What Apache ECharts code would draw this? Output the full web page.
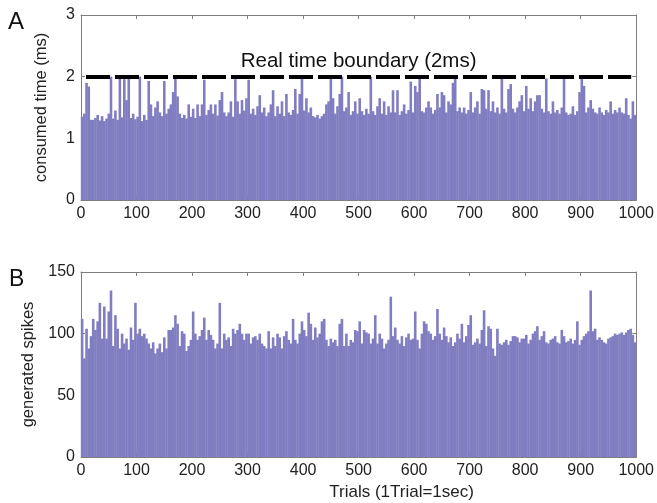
<!DOCTYPE html>
<html><head><meta charset="utf-8">
<script src="https://cdn.jsdelivr.net/npm/echarts@6/dist/echarts.min.js"></script>
<style>html,body{margin:0;padding:0;background:#fff}#c{width:657px;height:503px}</style>
</head><body><div id="c"></div>
<script>
// Panel A: consumed time per trial (ms), sampled every 4 trials
const consumedTime = [
1.35,1.40,1.90,1.84,1.30,1.30,1.33,1.38,1.29,1.36,
1.28,1.32,1.40,2.00,1.32,1.45,1.30,1.98,1.34,1.96,
1.62,1.97,1.33,1.40,1.31,1.35,2.00,1.28,1.38,1.30,
1.93,1.55,1.36,1.50,1.60,1.42,1.36,1.93,1.40,1.48,
1.55,1.75,1.97,1.68,1.40,1.33,1.38,1.32,1.55,1.35,
1.48,1.33,1.55,1.36,1.55,1.95,1.38,1.46,1.55,1.40,
1.55,1.37,1.62,1.75,1.42,1.36,1.42,1.60,1.35,1.96,
1.60,1.40,1.62,1.45,1.65,1.95,1.40,1.48,1.38,1.52,
1.70,1.42,1.50,1.36,1.42,1.55,1.78,1.36,1.52,1.40,
1.60,1.36,1.72,1.42,1.38,1.46,1.80,1.40,1.72,1.97,
1.45,1.65,1.42,1.50,1.36,1.34,1.38,1.32,1.36,1.40,
1.55,1.60,2.00,1.65,1.40,1.52,1.72,2.00,1.44,1.50,
1.75,1.38,1.44,1.60,1.40,1.65,1.44,1.38,1.48,1.40,
2.00,1.44,1.38,1.52,1.65,1.40,1.60,1.38,1.52,1.42,
1.78,1.42,1.78,1.38,1.44,1.55,1.40,1.46,1.92,1.42,
1.85,1.75,1.97,1.44,1.42,1.50,1.60,1.50,1.40,1.46,
1.72,1.50,1.75,1.70,1.42,1.60,1.55,1.90,2.00,1.44,
1.50,1.42,1.50,1.40,1.46,1.75,1.42,1.50,1.60,1.40,
1.80,1.78,1.48,1.78,1.44,1.60,1.42,1.50,1.40,2.00,
1.48,1.42,1.80,1.88,1.48,1.42,1.50,1.60,1.70,1.44,
1.85,1.48,1.65,1.44,1.60,1.70,1.70,1.48,1.42,1.97,
1.44,1.40,1.60,1.42,1.46,1.40,1.50,2.00,1.42,1.38,
1.40,1.52,1.38,1.44,1.75,2.00,1.85,1.42,1.50,1.62,
1.48,1.42,1.40,1.50,1.42,1.38,1.46,1.42,1.60,1.40,
1.46,1.42,1.50,1.42,1.40,1.65,1.38,1.32,1.60,1.38
];
// Panel B: generated spikes per trial, sampled every 4 trials
const generatedSpikes = [
112,80,104,88,98,112,103,110,125,96,
122,96,118,135,90,115,104,88,100,92,
96,87,105,95,125,100,104,98,100,96,
92,88,93,84,88,92,85,97,88,103,
103,105,115,108,90,102,100,86,90,95,
118,100,95,98,103,113,95,103,99,95,
88,92,125,88,100,95,97,90,104,100,
103,108,100,95,100,100,92,97,98,95,
100,92,90,88,102,88,97,90,100,97,
88,98,102,95,92,112,95,92,100,110,
103,98,117,108,95,105,97,100,110,112,
95,90,96,93,95,90,108,112,90,100,
90,95,93,103,102,110,92,103,101,100,
92,96,115,92,100,96,88,92,95,130,
98,105,95,92,98,90,97,100,95,96,
118,95,88,100,110,108,102,100,95,98,
120,100,95,105,98,93,97,90,93,100,
96,108,93,98,107,115,91,93,96,92,
103,119,90,106,104,88,82,104,92,91,
93,95,91,94,98,98,97,93,96,96,
99,92,95,100,102,106,95,98,102,93,
92,95,96,98,93,92,103,98,93,94,
96,92,95,110,91,95,98,100,102,135,
102,104,95,97,95,93,92,96,97,98,
100,99,100,101,99,101,103,104,99,93
];
const trialStep = 4;
const trials = consumedTime.map((_, i) => i * trialStep + 2);
const boundary = 2;
const boundaryLabel = 'Real time boundary (2ms)';

const FONT = '"Liberation Sans", Arial, sans-serif';
const AX = '#7f7f7f';
const BAR = '#807dc1';

function xAxes(g, showName) {
  const base = {
    gridIndex: g, type: 'value', min: 0, max: 1000, interval: 100,
    axisLine: {show: true, onZero: false, lineStyle: {color: AX, width: 1}},
    axisTick: {show: true, inside: true, length: 4, lineStyle: {color: AX}},
    splitLine: {show: false}
  };
  return [
    Object.assign({}, base, {
      position: 'bottom',
      axisLabel: {fontSize: 16, color: '#222', margin: 6, fontFamily: FONT, formatter: v => String(v)},
      name: showName ? 'Trials (1Trial=1sec)' : '',
      nameLocation: 'middle', nameGap: 27,
      nameTextStyle: {fontSize: 17, color: '#222', fontFamily: FONT, padding: [0, 0, 0, 86]}
    }),
    Object.assign({}, base, {position: 'top', axisLabel: {show: false}})
  ];
}
function yAxes(g, max, interval, name, nameSize) {
  const base = {
    gridIndex: g, type: 'value', min: 0, max: max, interval: interval,
    axisLine: {show: true, onZero: false, lineStyle: {color: AX, width: 1}},
    axisTick: {show: true, inside: true, length: 4, lineStyle: {color: AX}},
    splitLine: {show: false}
  };
  return [
    Object.assign({}, base, {
      position: 'left',
      axisLabel: {fontSize: 16, color: '#222', margin: 6, fontFamily: FONT},
      name: name, nameLocation: 'middle', nameGap: 31,
      nameTextStyle: {fontSize: nameSize, color: '#222', fontFamily: FONT}
    }),
    Object.assign({}, base, {position: 'right', axisLabel: {show: false}})
  ];
}

const chart = echarts.init(document.getElementById('c'), null, {renderer: 'canvas'});
chart.setOption({
  animation: false,
  backgroundColor: '#fff',
  title: [
    {text: 'A', left: 8, top: 10, padding: 0, textStyle: {fontSize: 24, fontWeight: 'normal', color: '#111', fontFamily: FONT}},
    {text: 'B', left: 9, top: 268, padding: 0, textStyle: {fontSize: 23, fontWeight: 'normal', color: '#111', fontFamily: FONT}}
  ],
  grid: [
    {left: 81, right: 15, top: 15, height: 185},
    {left: 81, right: 15, top: 272, height: 185}
  ],
  xAxis: [].concat(xAxes(0, false), xAxes(1, true)),
  yAxis: [].concat(yAxes(0, 3, 1, 'consumed time (ms)', 16.5), yAxes(1, 150, 50, 'generated spikes', 16.5)),
  series: [
    {
      type: 'bar', xAxisIndex: 0, yAxisIndex: 0, barWidth: 2.6,
      data: trials.map((t, i) => [t, consumedTime[i]]),
      itemStyle: {color: BAR},
      markLine: {
        silent: true, symbol: 'none',
        lineStyle: {color: '#000', width: 4, type: [24, 5]},
        label: {show: true, position: 'middle', formatter: boundaryLabel, fontSize: 20.5, color: '#111', fontFamily: FONT, distance: 5},
        data: [[{coord: [9, boundary]}, {coord: [991, boundary]}]]
      }
    },
    {
      type: 'bar', xAxisIndex: 2, yAxisIndex: 2, barWidth: 2.6,
      data: trials.map((t, i) => [t, generatedSpikes[i]]),
      itemStyle: {color: BAR}
    }
  ]
});
</script>
</body></html>
